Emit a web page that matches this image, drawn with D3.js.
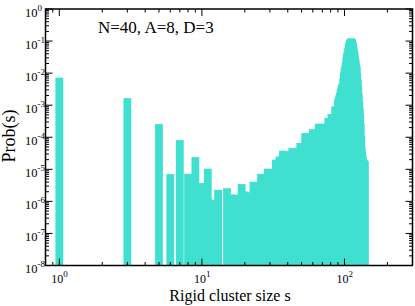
<!DOCTYPE html>
<html><head><meta charset="utf-8">
<script src="https://cdn.jsdelivr.net/npm/d3@7"></script>
<style>
html,body{margin:0;padding:0;background:#fff;}
svg{display:block;}
text{font-family:"Liberation Serif","Times New Roman",serif;fill:#000;}
</style></head>
<body>
<svg id="chart" width="415" height="306"></svg>
<script>
// cluster sizes s (integers with nonzero probability)
const sizes = [1,3,5,6,7,8,9,10,11,12,13,
  15,16,17,18,19,20,21,22,23,24,25,26,27,28,29,30,31,32,33,34,35,36,37,38,39,40,
  41,42,43,44,45,46,47,48,49,50,51,52,53,54,55,56,57,58,59,60,
  61,62,63,64,65,66,67,68,69,70,71,72,73,74,75,76,77,78,79,80,
  81,82,83,84,85,86,87,88,89,90,91,92,93,94,95,96,97,98,99,100,
  101,102,103,104,105,106,107,108,109,110,111,112,113,114,115,116,117,118,119,120,
  121,122,123,124,125,126,127,128,129,130,131,132,133,134,135,136,137,138,139];
// log10 of Prob(s)
const log10Prob = [-2.14,-2.78,-3.59,-5.15,-4.09,-5.14,-4.62,-5.43,-4.98,-5.95,-5.64,
  -5.59,-5.79,-5.79,-5.85,-5.46,-5.69,-5.72,-5.75,-5.39,-5.45,-5.42,-5.14,-5.18,-5.16,-4.98,-5.00,-5.02,-4.99,-4.70,-4.72,-4.60,-4.63,-4.42,-4.45,-4.48,-4.44,
  -4.46,-4.45,-4.34,-4.36,-4.38,-4.36,-4.37,-4.40,-4.18,-4.22,-4.20,-4.24,-3.87,-3.90,-3.92,-3.89,-3.95,-3.90,-3.93,-3.75,
  -3.80,-3.78,-3.82,-3.77,-3.79,-3.58,-3.62,-3.58,-3.60,-3.63,-3.60,-3.59,-3.60,-3.62,-3.60,-3.61,-3.40,-3.42,-3.43,-3.41,
  -3.28,-3.30,-3.29,-3.31,-3.30,-3.04,-3.06,-3.05,-3.05,-2.83,-2.75,-2.68,-2.61,-2.50,-2.42,-2.35,-2.31,-2.15,-1.98,-1.85,
  -1.78,-1.65,-1.50,-1.40,-1.32,-1.22,-1.12,-1.03,-0.97,-0.95,-0.93,-0.913,-0.95,-1.00,-1.08,-1.17,-1.28,-1.38,-1.50,-1.60,
  -1.70,-1.80,-2.00,-2.20,-2.42,-2.65,-2.90,-3.10,-3.30,-3.60,-3.95,-4.29,-4.45,-4.55,-4.65,-4.70,-4.72,-4.74,-4.76];
const probs = log10Prob.map(v => Math.pow(10, v));

const xMajor = [1, 10, 100];
const xMajorLabels = ["0", "1", "2"];
const yMajor = [1e-8,1e-7,1e-6,1e-5,1e-4,1e-3,1e-2,1e-1,1];
const yMajorLabels = ["-8","-7","-6","-5","-4","-3","-2","-1","0"];
const annotation = "N=40, A=8, D=3";
const xTitle = "Rigid cluster size s";
const yTitle = "Prob(s)";

const svg = d3.select("#chart");
const L = 45.5, R = 412.5, T = 9, B = 265.5;
const x = d3.scaleLog().domain([0.8, 300]).range([L, R]);
const y = d3.scaleLog().domain([1e-8, 1]).range([B, T]);

const barW = 7.8;
const data = sizes.map((s, i) => ({s, p: probs[i]}));
svg.append("g").selectAll("rect").data(data).join("rect")
  .attr("x", d => x(d.s) - barW/2)
  .attr("width", barW)
  .attr("y", d => y(d.p))
  .attr("height", d => y(1e-8) - y(d.p))
  .attr("fill", "#40E0D0");

// minor ticks
const xMinor = [0.9];
[1,10,100].forEach(d => { for (let k=2;k<=9;k++){ const v=d*k; if (v<300) xMinor.push(v);} });
const yMinor = [];
for (let e=-8;e<0;e++){ for(let k=2;k<=9;k++) yMinor.push(k*Math.pow(10,e)); }

const g = svg.append("g").attr("stroke","#000").attr("stroke-width",1);
const majLen = 7, minLen = 3.5;
xMajor.forEach(v => {
  g.append("line").attr("x1",x(v)).attr("x2",x(v)).attr("y1",B).attr("y2",B-majLen);
  g.append("line").attr("x1",x(v)).attr("x2",x(v)).attr("y1",T).attr("y2",T+majLen);
});
xMinor.forEach(v => {
  g.append("line").attr("x1",x(v)).attr("x2",x(v)).attr("y1",B).attr("y2",B-minLen);
  g.append("line").attr("x1",x(v)).attr("x2",x(v)).attr("y1",T).attr("y2",T+minLen);
});
yMajor.forEach(v => {
  g.append("line").attr("y1",y(v)).attr("y2",y(v)).attr("x1",L).attr("x2",L+majLen);
  g.append("line").attr("y1",y(v)).attr("y2",y(v)).attr("x1",R).attr("x2",R-majLen);
});
yMinor.forEach(v => {
  g.append("line").attr("y1",y(v)).attr("y2",y(v)).attr("x1",L).attr("x2",L+minLen);
  g.append("line").attr("y1",y(v)).attr("y2",y(v)).attr("x1",R).attr("x2",R-minLen);
});

svg.append("rect").attr("x",L).attr("y",T).attr("width",R-L).attr("height",B-T)
  .attr("fill","none").attr("stroke","#000").attr("stroke-width",1.5);

// y tick labels
yMajor.forEach((v,i) => {
  const t = svg.append("text").attr("x", 25).attr("y", y(v)+7.5).attr("font-size",12.5);
  t.append("tspan").text("10");
  t.append("tspan").attr("dy",-6).attr("font-size",9).text(yMajorLabels[i]);
});
// x tick labels
xMajor.forEach((v,i) => {
  const t = svg.append("text").attr("x", x(v)-8).attr("y", 283).attr("font-size",12);
  t.append("tspan").text("10");
  t.append("tspan").attr("dy",-6).attr("font-size",9).text(xMajorLabels[i]);
});

svg.append("text").attr("x",98).attr("y",33).attr("font-size",17).text(annotation);
svg.append("text").attr("x",230).attr("y",300.5).attr("text-anchor","middle").attr("font-size",16).text(xTitle);
svg.append("text").attr("transform","translate(15,136) rotate(-90)").attr("text-anchor","middle").attr("font-size",18).text(yTitle);
</script>
</body></html>
